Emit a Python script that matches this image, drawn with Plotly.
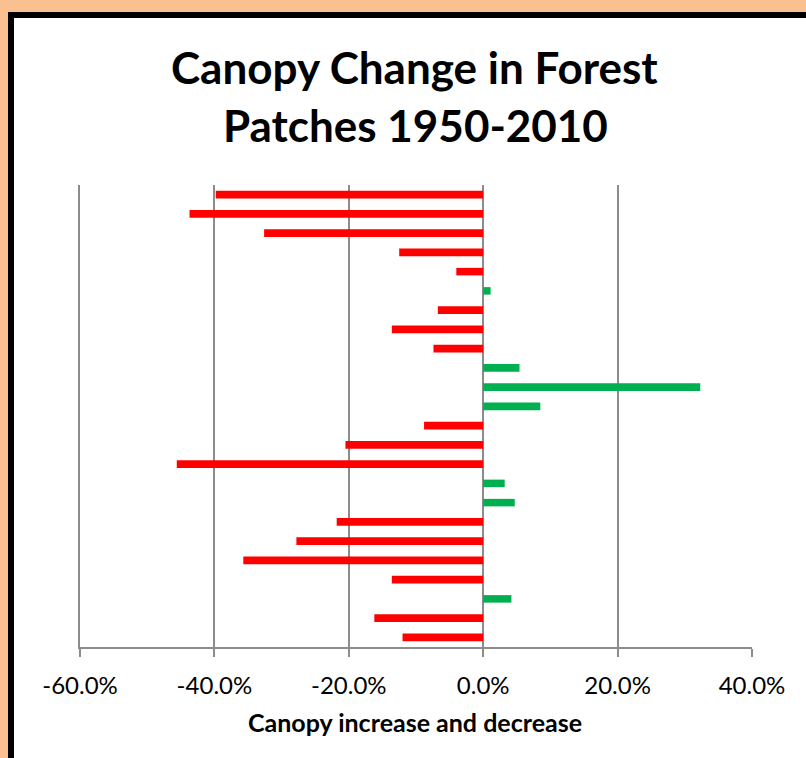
import plotly.graph_objects as go

patches = [f"Patch {i}" for i in range(1, 25)]
change_pct = [-39.8, -43.7, -32.6, -12.5, -4.0, 1.1, -6.75, -13.6, -7.4, 5.4, 32.3, 8.5,
              -8.8, -20.5, -45.6, 3.2, 4.7, -21.8, -27.8, -35.7, -13.6, 4.2, -16.2, -12.0]
tick_vals = [-60, -40, -20, 0, 20, 40]
title_lines = ["Canopy Change in Forest", "Patches 1950-2010"]
x_title = "Canopy increase and decrease"

RED = "#FF0000"
GREEN = "#00B050"
GRID = "#8C8C8C"
colors = [GREEN if v > 0 else RED for v in change_pct]

W, H = 806, 758
L, R, T, B = 80, 54, 185, 111
pw, ph = W - L - R, H - T - B

def px2x(px):
    return (px - L) / pw

def px2y(py):
    return 1 - (py - T) / ph

fig = go.Figure(go.Bar(
    x=change_pct, y=patches, orientation="h",
    marker=dict(color=colors, line=dict(width=0)),
    width=0.39, hoverinfo="x+y"))

shapes = [
    dict(type="rect", xref="paper", yref="paper", layer="below",
         x0=px2x(8), x1=px2x(830), y0=px2y(12), y1=px2y(780),
         fillcolor="#000000", line=dict(width=0)),
    dict(type="rect", xref="paper", yref="paper", layer="below",
         x0=px2x(14), x1=px2x(830), y0=px2y(18), y1=px2y(780),
         fillcolor="#FFFFFF", line=dict(width=0)),
]

annotations = [
    dict(text=f"<b>{title_lines[0]}</b>", xref="paper", yref="paper",
         x=px2x(414), y=px2y(67), xanchor="center", yanchor="middle",
         showarrow=False, font=dict(family="Lato", size=44, color="#000000")),
    dict(text=f"<b>{title_lines[1]}</b>", xref="paper", yref="paper",
         x=px2x(415), y=px2y(125), xanchor="center", yanchor="middle",
         showarrow=False, font=dict(family="Lato", size=44, color="#000000")),
    dict(text=f"<b>{x_title}</b>", xref="paper", yref="paper",
         x=px2x(415), y=px2y(722), xanchor="center", yanchor="middle",
         showarrow=False, font=dict(family="Lato", size=25, color="#000000")),
]

fig.update_layout(
    width=W, height=H,
    margin=dict(l=L, r=R, t=T, b=B, pad=0),
    paper_bgcolor="#FAC090",
    plot_bgcolor="rgba(0,0,0,0)",
    showlegend=False,
    shapes=shapes,
    annotations=annotations,
    bargap=0.6,
)
fig.update_xaxes(
    range=[-60, 40], tickvals=tick_vals,
    ticktext=[f"{v:.1f}%" for v in tick_vals],
    showgrid=True, gridcolor=GRID, gridwidth=2,
    zeroline=True, zerolinecolor=GRID, zerolinewidth=2,
    showline=True, linecolor=GRID, linewidth=2,
    ticks="outside", ticklen=8, tickwidth=2, tickcolor=GRID,
    tickfont=dict(family="Lato", size=24, color="#000000"),
    ticklabelstandoff=8,
    fixedrange=True,
)
fig.update_yaxes(
    autorange="reversed", showticklabels=False, showgrid=False,
    zeroline=False, showline=True, linecolor=GRID, linewidth=2,
    ticks="", fixedrange=True,
)

fig.write_html(
    "out.html",
    config={"displayModeBar": False},
    post_script="document.body.style.margin='0';document.body.style.padding='0';",
)
